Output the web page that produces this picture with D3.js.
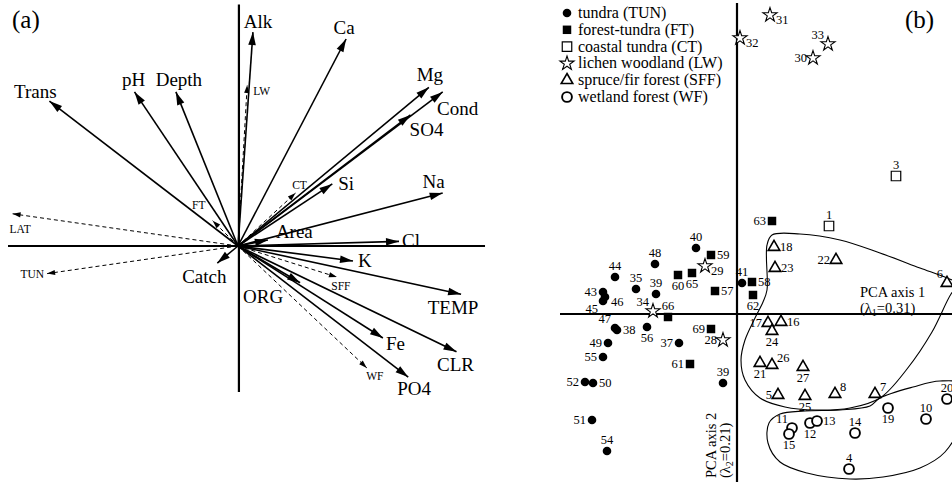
<!DOCTYPE html>
<html>
<head>
<meta charset="utf-8">
<script src="https://cdn.jsdelivr.net/npm/d3@7"></script>
<style>
body { margin: 0; background: #fff; }
text { font-family: "Liberation Serif", "Times New Roman", serif; fill: #000; }
</style>
</head>
<body>
<div id="chart"></div>
<script>
// ---- panel (a): PCA loadings of environmental variables ----
var varNames = ['Trans', 'pH', 'Depth', 'Alk', 'Ca', 'Mg', 'Cond', 'SO4', 'Si', 'Na',
                'Area', 'Cl', 'K', 'TEMP', 'Fe', 'CLR', 'PO4', 'ORG', 'Catch'];
var varX = [-0.82, -0.45, -0.27, 0.065, 0.47, 0.83, 0.89, 0.75, 0.41, 0.89,
            0.13, 0.70, 0.50, 0.97, 0.63, 0.95, 0.74, 0.27, -0.09];
var varY = [0.63, 0.67, 0.67, 0.93, 0.90, 0.69, 0.67, 0.57, 0.27, 0.23,
            0.026, 0.02, -0.065, -0.21, -0.40, -0.46, -0.57, -0.16, -0.074];

// passive (dashed) vectors: latitude and vegetation zones
var suppNames = ['LAT', 'TUN', 'FT', 'CT', 'LW', 'SFF', 'WF'];
var suppX = [-0.98, -0.83, -0.11, 0.25, 0.04, 0.43, 0.56];
var suppY = [0.14, -0.12, 0.11, 0.23, 0.70, -0.135, -0.53];

// ---- panel (b): lake scores ----
var zones = ['TUN', 'FT', 'CT', 'LW', 'SFF', 'WF'];
var zoneLabels = ['tundra (TUN)', 'forest-tundra (FT)', 'coastal tundra (CT)',
                  'lichen woodland (LW)', 'spruce/fir forest (SFF)', 'wetland forest (WF)'];

var siteIds = ['40', '48', '44', '35', '39', '43', '46', '45', '47', '38', '56', '49', '37', '55', '39', '52', '50', '51', '54', '41',
               '63', '59', '60', '65', '57', '58', '62', '66', '69', '61',
               '3', '1',
               '31', '32', '33', '30', '29', '34', '28',
               '18', '23', '22', '6', '17', '16', '24', '21', '26', '27', '5', '25', '8', '7',
               '20', '19', '10', '11', '15', '12', '13', '14', '4'];
var siteZone = ['TUN', 'TUN', 'TUN', 'TUN', 'TUN', 'TUN', 'TUN', 'TUN', 'TUN', 'TUN', 'TUN', 'TUN', 'TUN', 'TUN', 'TUN', 'TUN', 'TUN', 'TUN', 'TUN', 'TUN',
                'FT', 'FT', 'FT', 'FT', 'FT', 'FT', 'FT', 'FT', 'FT', 'FT',
                'CT', 'CT',
                'LW', 'LW', 'LW', 'LW', 'LW', 'LW', 'LW',
                'SFF', 'SFF', 'SFF', 'SFF', 'SFF', 'SFF', 'SFF', 'SFF', 'SFF', 'SFF', 'SFF', 'SFF', 'SFF', 'SFF',
                'WF', 'WF', 'WF', 'WF', 'WF', 'WF', 'WF', 'WF', 'WF'];
var siteX = [-0.41, -0.82, -1.22, -1.01, -0.81, -1.34, -1.32, -1.34, -1.22, -1.20, -0.90, -1.29, -0.58, -1.34, -0.14, -1.52, -1.44, -1.45, -1.30, 0.05,
             0.35, -0.26, -0.59, -0.45, -0.22, 0.15, 0.16, -0.69, -0.26, -0.47,
             1.59, 0.92,
             0.33, 0.03, 0.91, 0.76, -0.32, -0.84, -0.14,
             0.37, 0.38, 0.99, 2.10, 0.31, 0.44, 0.35, 0.23, 0.35, 0.66, 0.41, 0.68, 0.98, 1.38,
             2.10, 1.51, 1.89, 0.55, 0.52, 0.73, 0.80, 1.18, 1.12];
var siteY = [0.66, 0.50, 0.37, 0.25, 0.20, 0.22, 0.17, 0.13, -0.14, -0.16, -0.13, -0.29, -0.29, -0.43, -0.69, -0.68, -0.69, -1.06, -1.37, 0.31,
             0.93, 0.59, 0.39, 0.41, 0.23, 0.32, 0.19, -0.03, -0.15, -0.50,
             1.38, 0.88,
             2.99, 2.76, 2.70, 2.56, 0.48, 0.03, -0.26,
             0.67, 0.46, 0.54, 0.31, -0.09, -0.08, -0.17, -0.49, -0.51, -0.53, -0.81, -0.82, -0.80, -0.80,
             -0.85, -0.94, -1.05, -1.14, -1.20, -1.09, -1.07, -1.19, -1.55];
// where each site number sits relative to its marker
var sitePos = ['t', 't', 't', 't', 't', 'l', 'br', 'bl', 'tl', 'r', 'b', 'l', 'l', 'l', 't', 'l', 'r', 'l', 't', 't',
               'l', 'r', 'b', 'b', 'r', 'r', 'b', 't', 'l', 'l',
               't', 't',
               'br', 'br', 'tl', 'l', 'br', 'tl', 'l',
               'r', 'r', 'l', 'tl', 'l', 'r', 'b', 'b', 'tr', 'b', 'l', 'b', 'tr', 'tr',
               't', 'b', 't', 'tl', 'b', 'b', 'r', 't', 't'];

// outlines drawn round the SFF and WF lakes
var sffHullX = [0.30, 0.30, 0.35, 0.63, 1.03, 1.43, 1.83, 2.10, 2.22, 2.14, 1.95, 1.70, 1.43, 1.13, 0.78, 0.48, 0.23, 0.08, 0.04, 0.08, 0.18, 0.26];
var sffHullY = [0.24, 0.69, 0.79, 0.80, 0.74, 0.61, 0.46, 0.36, 0.30, 0.20, -0.18, -0.55, -0.84, -0.94, -0.96, -0.93, -0.84, -0.66, -0.46, -0.26, -0.04, 0.12];
var wfHullX = [1.43, 1.76, 2.03, 2.28, 2.25, 2.08, 1.83, 1.46, 1.13, 0.70, 0.43, 0.31, 0.32, 0.43, 0.68, 1.03, 1.33];
var wfHullY = [-0.84, -0.73, -0.67, -0.71, -1.06, -1.38, -1.54, -1.63, -1.65, -1.59, -1.48, -1.29, -1.09, -1.00, -0.97, -0.96, -0.92];

// label placement for panel (a) vectors: [dx, dy, anchor]
var varLabelPos = [[-14, -3, 'middle'], [-1, -6, 'middle'], [3, -6, 'middle'], [5, -4, 'middle'],
                   [-2, -5, 'middle'], [1, -6, 'middle'], [15, 23, 'middle'], [16, 21, 'middle'],
                   [6, 6, 'start'], [-9, -5, 'middle'], [8, -2, 'start'], [3, 6, 'start'],
                   [5, 6, 'start'], [-8, 20, 'middle'], [3, 12, 'start'], [-1, 19, 'middle'],
                   [6, 18, 'middle'], [-37, 20, 'middle'], [-13, 20, 'middle']];
var suppLabelPos = [[-3, 19, 'start'], [-3, 4, 'end'], [-14, -12, 'middle'], [4, -4, 'middle'],
                    [6, 10, 'start'], [4, 13, 'middle'], [8, 12, 'middle']];

var svg = d3.select('#chart').append('svg')
    .attr('width', 952)
    .attr('height', 482);

var defs = svg.append('defs');
defs.append('marker')
    .attr('id', 'head')
    .attr('markerUnits', 'userSpaceOnUse')
    .attr('viewBox', '-14 -5 15 10')
    .attr('markerWidth', 15).attr('markerHeight', 10)
    .attr('refX', 0).attr('refY', 0)
    .attr('orient', 'auto')
    .append('path').attr('d', 'M0,0L-13,-3.8L-13,3.8Z').attr('fill', '#000');
defs.append('marker')
    .attr('id', 'smallhead')
    .attr('markerUnits', 'userSpaceOnUse')
    .attr('viewBox', '-9 -4 10 8')
    .attr('markerWidth', 10).attr('markerHeight', 8)
    .attr('refX', 0).attr('refY', 0)
    .attr('orient', 'auto')
    .append('path').attr('d', 'M0,0L-8,-2.6L-8,2.6Z').attr('fill', '#000');

// ================= panel (a) =================
var xA = d3.scaleLinear().domain([-1, 1]).range([8, 468]);
var yA = d3.scaleLinear().domain([-1, 1]).range([476, 16]);
var gA = svg.append('g');

gA.append('line')
    .attr('x1', xA(-1)).attr('x2', xA(1.074))
    .attr('y1', yA(0)).attr('y2', yA(0))
    .attr('stroke', '#000').attr('stroke-width', 2.2);
gA.append('line')
    .attr('x1', xA(0.004)).attr('x2', xA(0.004))
    .attr('y1', yA(1.05)).attr('y2', yA(-0.635))
    .attr('stroke', '#000').attr('stroke-width', 2.2);

var supp = suppNames.map(function(n, i) { return {name: n, x: suppX[i], y: suppY[i], pos: suppLabelPos[i]}; });
gA.selectAll('.supp')
    .data(supp)
    .enter()
    .append('line')
    .attr('class', 'supp')
    .attr('x1', xA(0)).attr('y1', yA(0))
    .attr('x2', d => xA(d.x)).attr('y2', d => yA(d.y))
    .attr('stroke', '#000').attr('stroke-width', 1)
    .attr('stroke-dasharray', '4,3')
    .attr('marker-end', 'url(#smallhead)');
gA.selectAll('.supplab')
    .data(supp)
    .enter()
    .append('text')
    .attr('class', 'supplab')
    .attr('x', d => xA(d.x) + d.pos[0])
    .attr('y', d => yA(d.y) + d.pos[1])
    .attr('text-anchor', d => d.pos[2])
    .attr('font-size', '11.5px')
    .text(d => d.name);

var vars = varNames.map(function(n, i) { return {name: n, x: varX[i], y: varY[i], pos: varLabelPos[i]}; });
gA.selectAll('.vec')
    .data(vars)
    .enter()
    .append('line')
    .attr('class', 'vec')
    .attr('x1', xA(0)).attr('y1', yA(0))
    .attr('x2', d => xA(d.x)).attr('y2', d => yA(d.y))
    .attr('stroke', '#000').attr('stroke-width', 1.6)
    .attr('marker-end', 'url(#head)');
gA.selectAll('.veclab')
    .data(vars)
    .enter()
    .append('text')
    .attr('class', 'veclab')
    .attr('x', d => xA(d.x) + d.pos[0])
    .attr('y', d => yA(d.y) + d.pos[1])
    .attr('text-anchor', d => d.pos[2])
    .attr('font-size', '19px')
    .text(d => d.name);

svg.append('text').attr('x', 12).attr('y', 28).attr('font-size', '25px').text('(a)');
svg.append('text').attr('x', 905).attr('y', 28).attr('font-size', '25px').text('(b)');

// ================= panel (b) =================
var xB = d3.scaleLinear().domain([-2, 2.15]).range([537, 952]);
var yB = d3.scaleLinear().domain([-1.68, 3.14]).range([482, 0]);
var gB = svg.append('g');

var hull = d3.line()
    .x(d => xB(d[0])).y(d => yB(d[1]))
    .curve(d3.curveCatmullRomClosed.alpha(0.5));
gB.append('path')
    .attr('d', hull(sffHullX.map((v, i) => [v, sffHullY[i]])))
    .attr('fill', 'none').attr('stroke', '#000').attr('stroke-width', 1.1);
gB.append('path')
    .attr('d', hull(wfHullX.map((v, i) => [v, wfHullY[i]])))
    .attr('fill', 'none').attr('stroke', '#000').attr('stroke-width', 1.1);

gB.append('line')
    .attr('x1', xB(-1.77)).attr('x2', xB(2.15))
    .attr('y1', yB(0)).attr('y2', yB(0))
    .attr('stroke', '#000').attr('stroke-width', 2.2);
gB.append('line')
    .attr('x1', xB(0)).attr('x2', xB(0))
    .attr('y1', yB(3.11)).attr('y2', yB(-1.68))
    .attr('stroke', '#000').attr('stroke-width', 2.2);

var zoneStyle = {
    TUN: {type: d3.symbolCircle, size: 58, fill: '#000', sw: 0},
    FT:  {type: d3.symbolSquare, size: 72, fill: '#000', sw: 0},
    CT:  {type: d3.symbolSquare, size: 90, fill: '#fff', sw: 1.2},
    LW:  {type: d3.symbolStar, size: 62, fill: '#fff', sw: 1.1},
    SFF: {type: d3.symbolTriangle, size: 58, fill: '#fff', sw: 1.6},
    WF:  {type: d3.symbolCircle, size: 76, fill: '#fff', sw: 1.9}
};
function symPath(z) { return d3.symbol().type(zoneStyle[z].type).size(zoneStyle[z].size)(); }

var sites = siteIds.map(function(id, i) {
    return {id: id, zone: siteZone[i], x: siteX[i], y: siteY[i], pos: sitePos[i]};
});

gB.selectAll('.site')
    .data(sites)
    .enter()
    .append('path')
    .attr('class', 'site')
    .attr('transform', d => `translate(${xB(d.x)},${yB(d.y)})`)
    .attr('d', d => symPath(d.zone))
    .attr('fill', d => zoneStyle[d.zone].fill)
    .attr('stroke', d => zoneStyle[d.zone].sw ? '#000' : 'none')
    .attr('stroke-width', d => zoneStyle[d.zone].sw);

var offs = {
    t:  [0, -7, 'middle'], b: [0, 15, 'middle'],
    l:  [-6, 4, 'end'],    r: [6, 4, 'start'],
    tl: [-4, -5, 'end'],   tr: [5, -3, 'start'],
    br: [6, 9, 'start'],   bl: [-5, 12, 'end']
};
gB.selectAll('.sitelab')
    .data(sites)
    .enter()
    .append('text')
    .attr('class', 'sitelab')
    .attr('x', d => xB(d.x) + offs[d.pos][0])
    .attr('y', d => yB(d.y) + offs[d.pos][1])
    .attr('text-anchor', d => offs[d.pos][2])
    .attr('font-size', '12.5px')
    .text(d => d.id);

// legend
var legend = svg.append('g').attr('transform', 'translate(567, 13)');
legend.selectAll('path')
    .data(zones)
    .enter()
    .append('path')
    .attr('transform', (d, i) => `translate(0, ${i * 16.8})`)
    .attr('d', d => symPath(d))
    .attr('fill', d => zoneStyle[d].fill)
    .attr('stroke', d => zoneStyle[d].sw ? '#000' : 'none')
    .attr('stroke-width', d => zoneStyle[d].sw);
legend.selectAll('text')
    .data(zoneLabels)
    .enter()
    .append('text')
    .attr('x', 11)
    .attr('y', (d, i) => i * 16.8 + 5)
    .attr('font-size', '16px')
    .text(d => d);

// axis titles
var ax1 = gB.append('text').attr('x', 860).attr('y', 297).attr('font-size', '14.5px').text('PCA axis 1');
var lam1 = gB.append('text').attr('x', 860).attr('y', 313).attr('font-size', '14.5px');
lam1.append('tspan').text('(\u03bb');
lam1.append('tspan').attr('font-size', '10px').attr('dy', 3).text('1');
lam1.append('tspan').attr('dy', -3).text('=0.31)');

gB.append('text')
    .attr('transform', 'translate(716, 478) rotate(-90)')
    .attr('font-size', '14.5px')
    .text('PCA axis 2');
var lam2 = gB.append('text')
    .attr('transform', 'translate(730, 478) rotate(-90)')
    .attr('font-size', '14.5px');
lam2.append('tspan').text('(\u03bb');
lam2.append('tspan').attr('font-size', '10px').attr('dy', 3).text('2');
lam2.append('tspan').attr('dy', -3).text('=0.21)');
</script>
</body>
</html>
